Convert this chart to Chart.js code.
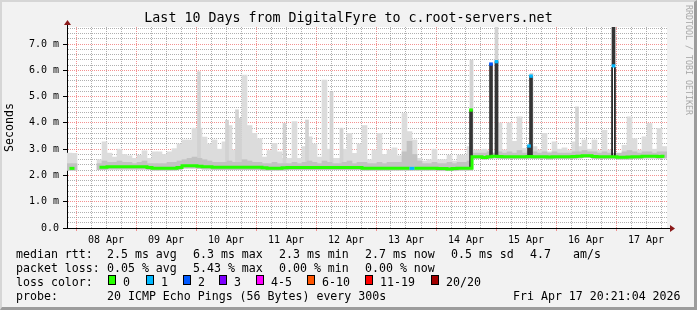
<!DOCTYPE html>
<html>
<head>
<meta charset="utf-8">
<script src="https://cdn.jsdelivr.net/npm/chart.js@4/dist/chart.umd.min.js"></script>
<style>
  html, body { margin: 0; padding: 0; background: #f2f2f2; }
  #wrap { position: relative; width: 697px; height: 310px; overflow: hidden;
          font-family: "DejaVu Sans Mono", monospace; color: #000; }
  #chart { position: absolute; left: 0; top: 0; }
  #frame { position: absolute; left: 0; top: 0; width: 697px; height: 310px; box-sizing: border-box;
           border-top: 2px solid #d6d6d6; border-left: 2px solid #d6d6d6;
           border-right: 3px solid #9c9c9c; border-bottom: 3px solid #9c9c9c; pointer-events: none; }
  .t { position: absolute; white-space: pre; font-size: 11.6px; line-height: 14px; }
  .box { position: absolute; width: 8px; height: 10px; box-sizing: border-box; border: 1px solid #000; }
  #title { position: absolute; left: 0; top: 10px; width: 697px; text-align: center;
           font-size: 13.3px; line-height: 16px; white-space: pre; }
  #rrd { position: absolute; left: 693px; top: 5px; transform: rotate(90deg); transform-origin: 0 0;
         font-size: 8.3px; line-height: 9px; color: #a8a8a8; white-space: pre; }
</style>
</head>
<body>
<div id="wrap">
  <canvas id="chart" width="697" height="310"></canvas>
  <div id="title">Last 10 Days from DigitalFyre to c.root-servers.net</div>
  <div id="rrd">RRDTOOL / TOBI OETIKER</div>

  <div class="t" style="left:16px;top:247px">median rtt:</div>
  <div class="t" style="left:107px;top:247px">2.5 ms avg</div>
  <div class="t" style="left:193px;top:247px">6.3 ms max</div>
  <div class="t" style="left:279px;top:247px">2.3 ms min</div>
  <div class="t" style="left:365px;top:247px">2.7 ms now</div>
  <div class="t" style="left:451px;top:247px">0.5 ms sd</div>
  <div class="t" style="left:530px;top:247px">4.7</div>
  <div class="t" style="left:573px;top:247px">am/s</div>

  <div class="t" style="left:16px;top:261px">packet loss:</div>
  <div class="t" style="left:107px;top:261px">0.05 % avg</div>
  <div class="t" style="left:193px;top:261px">5.43 % max</div>
  <div class="t" style="left:279px;top:261px">0.00 % min</div>
  <div class="t" style="left:365px;top:261px">0.00 % now</div>

  <div class="t" style="left:16px;top:275px">loss color:</div>
  <div id="lossLegend"></div>

  <div class="t" style="left:16px;top:289px">probe:</div>
  <div class="t" style="left:107px;top:289px">20 ICMP Echo Pings (56 Bytes) every 300s</div>
  <div class="t" style="left:513px;top:289px">Fri Apr 17 20:21:04 2026</div>

  <div id="frame"></div>
</div>

<script>
// x values are hours since 08 Apr 00:00, the window runs 07 Apr 20:24 .. 17 Apr 20:24
const dayLabels = ["08 Apr", "09 Apr", "10 Apr", "11 Apr", "12 Apr", "13 Apr", "14 Apr", "15 Apr", "16 Apr", "17 Apr"];
const slotStart = -2.6;   // centre of the first 2h slot
const slotHours = 2;

// upper edge of the light smoke, one value per 2h slot (ms)
const smokeTop = [
  2.85, 2.84, null, null, null, null, 2.6, 3.28, 2.85, 2.7,
  3.0, 2.8, 2.75, 2.65, 2.77, 2.94, 2.65, 2.9, 2.9, 2.8,
  2.9, 3.02, 3.2, 3.35, 3.35, 3.8, 3.8, 3.46, 3.2, 3.35,
  3.0, 3.28, 3.9, 2.97, 3.35, 5.82, 3.9, 3.6, 3.4, 2.7,
  2.95, 3.22, 2.9, 2.65, 2.65, 4.05, 2.65, 3.1, 3.47, 3.2,
  2.7, 5.63, 3.0, 2.65, 2.65, 3.0, 3.6, 2.84, 3.2, 3.9,
  2.6, 2.97, 3.6, 2.8, 2.97, 3.05, 2.75, 4.36, 3.67, 3.35,
  2.65, 2.55, 2.6, 3.0, 2.6, 2.6, 2.77, 2.55, 2.77, 2.77,
  3.1, 2.97, 2.97, 3.0, 2.95, 2.85, 4.0, 2.97, 4.0, 3.3,
  4.23, 3.03, 3.12, 3.1, 2.97, 3.6, 2.9, 3.28, 3.0, 3.05,
  2.95, 3.28, 3.1, 3.35, 3.0, 3.35, 2.95, 3.72, 2.97, 2.84,
  2.84, 3.15, 4.23, 3.4, 2.97, 3.47, 3.98, 3.0, 3.79, 3.1
];
// lower edge of the smoke
const smokeLow = [
  2.2, 2.2, null, null, null, null, 2.22, 2.22, 2.24, 2.24,
  2.24, 2.24, 2.24, 2.24, 2.24, 2.24, 2.22, 2.2, 2.2, 2.2,
  2.2, 2.2, 2.22, 2.28, 2.28, 2.28, 2.26, 2.24, 2.24, 2.22,
  2.22, 2.22, 2.22, 2.22, 2.22, 2.22, 2.22, 2.22, 2.22, 2.2,
  2.2, 2.2, 2.2, 2.2, 2.22, 2.22, 2.22, 2.22, 2.22, 2.22,
  2.22, 2.22, 2.22, 2.22, 2.22, 2.22, 2.22, 2.22, 2.22, 2.2,
  2.2, 2.2, 2.2, 2.2, 2.2, 2.2, 2.2, 2.2, 2.2, 2.2,
  2.2, 2.2, 2.2, 2.2, 2.18, 2.18, 2.18, 2.18, 2.2, 2.2,
  2.2, 2.64, 2.64, 2.62, 2.64, 2.66, 2.64, 2.64, 2.64, 2.64,
  2.64, 2.64, 2.64, 2.64, 2.64, 2.64, 2.62, 2.64, 2.64, 2.64,
  2.64, 2.64, 2.66, 2.68, 2.68, 2.64, 2.64, 2.64, 2.64, 2.64,
  2.62, 2.62, 2.62, 2.64, 2.64, 2.66, 2.66, 2.66, 2.64, 2.66
];
// upper edge of the darker smoke close to the median
const smokeMid = [
  2.45, 2.45, null, null, null, null, 2.45, 2.55, 2.5, 2.5,
  2.55, 2.5, 2.5, 2.45, 2.5, 2.55, 2.45, 2.45, 2.45, 2.45,
  2.5, 2.5, 2.55, 2.6, 2.65, 2.7, 2.65, 2.6, 2.55, 2.5,
  2.5, 2.5, 2.55, 2.5, 2.5, 2.6, 2.55, 2.5, 2.5, 2.45,
  2.45, 2.5, 2.45, 2.45, 2.45, 2.5, 2.45, 2.5, 2.55, 2.5,
  2.45, 2.55, 2.5, 2.45, 2.45, 2.5, 2.55, 2.45, 2.5, 2.5,
  2.45, 2.45, 2.5, 2.45, 2.5, 2.5, 2.5, 2.9, 3.3, 2.8,
  2.55, 2.45, 2.45, 2.5, 2.45, 2.45, 2.5, 2.45, 2.5, 2.5,
  2.55, 2.85, 2.85, 2.85, 2.9, 2.85, 2.9, 2.85, 2.9, 2.85,
  2.95, 2.85, 2.9, 2.9, 2.85, 2.9, 2.85, 2.9, 2.85, 2.85,
  2.85, 2.9, 2.9, 2.95, 2.9, 2.9, 2.85, 2.9, 2.85, 2.85,
  2.85, 2.9, 2.95, 2.9, 2.85, 2.9, 2.9, 2.85, 2.9, 2.9
];
// median rtt (ms)
const median = [
  2.27, 2.27, null, null, null, null, 2.31, 2.31, 2.33, 2.33,
  2.33, 2.33, 2.33, 2.33, 2.33, 2.33, 2.30, 2.27, 2.27, 2.27,
  2.27, 2.27, 2.30, 2.37, 2.37, 2.37, 2.35, 2.33, 2.33, 2.31,
  2.31, 2.31, 2.31, 2.31, 2.31, 2.31, 2.31, 2.31, 2.31, 2.29,
  2.27, 2.27, 2.27, 2.29, 2.30, 2.30, 2.30, 2.30, 2.30, 2.30,
  2.30, 2.30, 2.30, 2.30, 2.30, 2.30, 2.30, 2.30, 2.30, 2.27,
  2.27, 2.27, 2.27, 2.27, 2.27, 2.27, 2.27, 2.27, 2.27, 2.27,
  2.27, 2.27, 2.27, 2.27, 2.26, 2.26, 2.25, 2.26, 2.27, 2.27,
  2.27, 2.71, 2.71, 2.68, 2.71, 2.73, 2.72, 2.71, 2.71, 2.71,
  2.71, 2.71, 2.72, 2.71, 2.71, 2.71, 2.70, 2.71, 2.71, 2.71,
  2.71, 2.72, 2.73, 2.75, 2.75, 2.72, 2.71, 2.71, 2.71, 2.71,
  2.69, 2.69, 2.70, 2.71, 2.71, 2.73, 2.73, 2.73, 2.72, 2.73
];
// slots whose median was drawn with a loss colour
const lossSlot = [68];
const lossSlotCount = [1];

// thin smoke spikes
const spikeHours = [49.2, 60.4, 64.4, 65.6, 83.4, 92.4, 102.2, 106.2, 158.2, 168.2, 182.2, 200.4];
const spikeLow   = [2.3, 2.3, 2.3, 2.3, 2.3, 2.3, 2.3, 2.3, 2.27, 2.72, 2.72, 2.72];
const spikeTop   = [5.95, 4.1, 4.5, 4.17, 3.98, 4.11, 5.18, 3.8, 6.39, 7.65, 5.88, 4.61];

// dark outlier columns and their loss markers
const outHours  = [158.0, 166.0, 168.2, 181.2, 182.0, 215.0];
const outLow    = [2.27, 2.72, 2.72, 2.72, 2.72, 6.2];
const outHigh   = [4.49, 6.24, 6.33, 3.12, 5.78, 7.65];
const markValue = [4.49, 6.24, 6.33, 3.12, 5.78, 6.17];
const markLoss  = [0, 2, 1, 1, 1, 1];
const ringHours = [215.0];
const ringLow   = [2.72];
const ringHigh  = [6.14];

const lossNames  = ["0", "1", "2", "3", "4-5", "6-10", "11-19", "20/20"];
const lossColors = ["#26ff00", "#00b8ff", "#0059ff", "#7e00ff", "#ff00ff", "#ff5500", "#ff0000", "#a10000"];

// loss colour legend
const boxX = [108, 146, 183, 219, 256, 307, 365, 431];
const legend = document.getElementById("lossLegend");
lossNames.forEach((name, i) => {
  const b = document.createElement("div");
  b.className = "box";
  b.style.left = boxX[i] + "px";
  b.style.top = "275px";
  b.style.background = lossColors[i];
  legend.appendChild(b);
  const t = document.createElement("div");
  t.className = "t";
  t.style.left = (boxX[i] + 15) + "px";
  t.style.top = "275px";
  t.textContent = name;
  legend.appendChild(t);
});

const slotX = i => slotStart + slotHours * i;
const slots = (lo, hi) => hi.map((v, i) => ({ x: slotX(i), y: [lo[i], v] })).filter(p => p.y[0] != null && p.y[1] != null);
const columns = (xs, lo, hi) => xs.map((x, i) => ({ x: x, y: [lo[i], hi[i]] }));

const MONO = "'DejaVu Sans Mono', monospace";
const GRID = "rgba(150,150,150,0.75)";
const MGRID = "rgba(240,110,110,0.75)";
const isWhole = v => Math.abs(v - Math.round(v)) < 1e-6;

const plotDecor = {
  id: "plotDecor",
  beforeDraw(chart) {
    const { ctx, chartArea: a } = chart;
    ctx.save();
    ctx.fillStyle = "#ffffff";
    ctx.fillRect(a.left, a.top, a.right - a.left, a.bottom - a.top);
    ctx.restore();
  },
  afterDraw(chart) {
    const { ctx, chartArea: a } = chart;
    ctx.save();
    ctx.strokeStyle = "#000";
    ctx.lineWidth = 1;
    ctx.beginPath();
    ctx.moveTo(a.left + 0.5, a.top);
    ctx.lineTo(a.left + 0.5, a.top - 3);
    ctx.moveTo(a.right, a.bottom + 0.5);
    ctx.lineTo(a.right + 3, a.bottom + 0.5);
    ctx.stroke();
    ctx.fillStyle = "#8b1a1a";
    ctx.beginPath();
    ctx.moveTo(a.left + 0.5, a.top - 7);
    ctx.lineTo(a.left - 3, a.top - 2);
    ctx.lineTo(a.left + 4, a.top - 2);
    ctx.closePath();
    ctx.fill();
    ctx.beginPath();
    ctx.moveTo(a.right + 8, a.bottom + 0.5);
    ctx.lineTo(a.right + 3, a.bottom - 3);
    ctx.lineTo(a.right + 3, a.bottom + 4);
    ctx.closePath();
    ctx.fill();
    ctx.restore();
  }
};

const barBase = { type: "bar", grouped: false, borderWidth: 0 };

new Chart(document.getElementById("chart"), {
  type: "bar",
  data: {
    datasets: [
      { ...barBase, label: "smoke", data: slots(smokeLow, smokeTop), backgroundColor: "#dcdcdc", barThickness: 5, order: 6 },
      { ...barBase, label: "spikes", data: columns(spikeHours, spikeLow, spikeTop), backgroundColor: "#d2d2d2", barThickness: 3, order: 5 },
      { ...barBase, label: "smoke mid", data: slots(smokeLow, smokeMid), backgroundColor: "#c2c2c2", barThickness: 5, order: 4 },
      { ...barBase, label: "outliers", data: columns(outHours, outLow, outHigh), backgroundColor: "#353535", barThickness: 3, order: 3 },
      { ...barBase, label: "ring", data: columns(ringHours, ringLow, ringHigh), backgroundColor: "rgba(0,0,0,0)",
        borderColor: "#000", borderWidth: { left: 1, right: 1, top: 0, bottom: 0 }, borderSkipped: false, barThickness: 4, order: 2 },
      {
        type: "line", label: "median", order: 1,
        data: median.map((v, i) => ({ x: slotX(i), y: v })),
        borderColor: lossColors[0], borderWidth: 3, pointRadius: 0, stepped: "middle", spanGaps: false,
        segment: {
          borderColor: c => {
            const j = lossSlot.indexOf(c.p0DataIndex);
            return j >= 0 ? lossColors[lossSlotCount[j]] : lossColors[0];
          }
        }
      },
      { ...barBase, label: "loss marks", data: markValue.map((v, i) => ({ x: outHours[i], y: [v - 0.05, v + 0.05] })),
        backgroundColor: c => lossColors[markLoss[c.dataIndex]], barThickness: 3, order: 0 }
    ]
  },
  options: {
    responsive: false,
    devicePixelRatio: 1,
    animation: false,
    layout: { padding: { left: 0, right: 30, top: 27, bottom: 62 } },
    plugins: { legend: { display: false }, tooltip: { enabled: false }, title: { display: false } },
    scales: {
      x: {
        type: "linear", min: -3.6, max: 236.4, offset: false,
        afterBuildTicks: s => { const t = []; for (let h = 0; h <= 234; h += 6) t.push({ value: h }); s.ticks = t; },
        afterFit: s => { s.height = 20; },
        grid: {
          offset: false, tickLength: 3,
          color: c => (c.tick && c.tick.value % 24 === 0) ? MGRID : GRID,
          tickColor: c => (c.tick && c.tick.value % 24 === 0) ? MGRID : "rgba(0,0,0,0)"
        },
        border: { display: true, color: "#000", width: 1, dash: [1, 1] },
        ticks: {
          autoSkip: false, maxRotation: 0, minRotation: 0, padding: 3, color: "#000",
          font: { family: MONO, size: 10 },
          callback: v => (v % 24 === 12) ? dayLabels[(v - 12) / 24] : ""
        }
      },
      y: {
        type: "linear", min: 0, max: 7.65,
        afterBuildTicks: s => { const t = []; for (let i = 0; i <= 38; i++) t.push({ value: Math.round(i * 2) / 10 }); s.ticks = t; },
        afterFit: s => { s.width = 67; },
        grid: {
          tickLength: 4,
          color: c => (c.tick && isWhole(c.tick.value)) ? MGRID : GRID,
          tickColor: c => (c.tick && isWhole(c.tick.value)) ? "#000" : "rgba(0,0,0,0)"
        },
        border: { display: true, color: "#000", width: 1, dash: [1, 1] },
        ticks: {
          autoSkip: false, padding: 4, color: "#000", font: { family: MONO, size: 10 },
          callback: v => isWhole(v) ? (v === 0 ? "0.0" : v.toFixed(1) + " m") : ""
        },
        title: { display: true, text: "Seconds", color: "#000", font: { family: MONO, size: 11.6 }, padding: { top: 3, bottom: 0 } }
      }
    }
  },
  plugins: [plotDecor]
});
</script>
</body>
</html>
